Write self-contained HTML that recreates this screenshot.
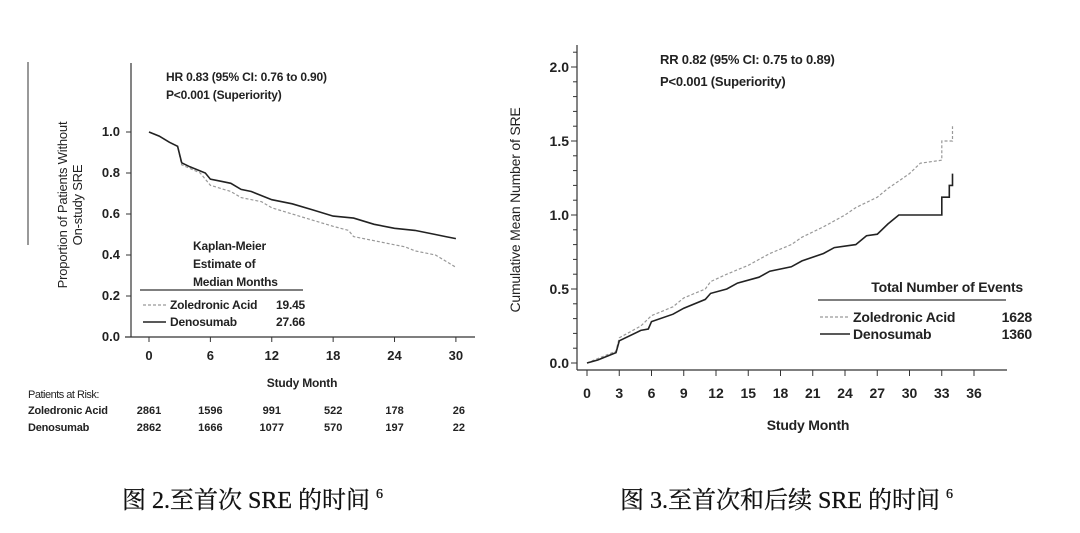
<!DOCTYPE html>
<html><head><meta charset="utf-8"><style>
html,body{margin:0;padding:0;background:#fff;}
svg{display:block;font-family:"Liberation Sans",Arial,sans-serif;}
.cap{font-family:"Liberation Serif","Noto Serif CJK SC","Noto Sans CJK SC",serif;font-size:24px;fill:#111;stroke:#111;stroke-width:0.3px;}
</style></head><body>
<svg id="s" width="1080" height="533" viewBox="0 0 1080 533" xmlns="http://www.w3.org/2000/svg">
<rect width="1080" height="533" fill="#fff"/>
<g id="g" stroke="#333" fill="none"></g>
<g font-size="12" fill="#222" font-weight="bold" style="letter-spacing:-0.2px">
<text x="166" y="81">HR 0.83 (95% CI: 0.76 to 0.90)</text>
<text x="166" y="99">P&lt;0.001 (Superiority)</text>
<text transform="translate(67,205) rotate(-90)" text-anchor="middle" font-weight="normal" font-size="13">Proportion of Patients Without</text>
<text transform="translate(82,205) rotate(-90)" text-anchor="middle" font-weight="normal" font-size="13">On-study SRE</text>
<text x="193" y="250">Kaplan-Meier</text>
<text x="193" y="268">Estimate of</text>
<text x="193" y="286">Median Months</text>
<text x="170" y="309">Zoledronic Acid</text><text x="276" y="309">19.45</text>
<text x="170" y="326">Denosumab</text><text x="276" y="326">27.66</text>
<text x="302" y="387" text-anchor="middle">Study Month</text>
<text x="28" y="398" font-size="11" font-weight="normal" style="letter-spacing:-0.5px">Patients at Risk:</text>
<text x="28" y="414" font-size="11">Zoledronic Acid</text>
<text x="28" y="431" font-size="11">Denosumab</text>
<text x="660" y="64" font-size="13">RR 0.82 (95% CI: 0.75 to 0.89)</text>
<text x="660" y="86" font-size="13">P&lt;0.001 (Superiority)</text>
<text transform="translate(520,210) rotate(-90)" text-anchor="middle" font-weight="normal" font-size="14">Cumulative Mean Number of SRE</text>
<text x="1023" y="292" text-anchor="end" font-size="14">Total Number of Events</text>
<text x="853" y="322" font-size="14">Zoledronic Acid</text><text x="1032" y="322" font-size="14" text-anchor="end">1628</text>
<text x="853" y="339" font-size="14">Denosumab</text><text x="1032" y="339" font-size="14" text-anchor="end">1360</text>
<text x="808" y="430" text-anchor="middle" font-size="14">Study Month</text>
</g>
<g id="t" fill="#222" font-weight="bold"></g>
<text class="cap" x="122" y="508">图 2.至首次 SRE 的时间 <tspan font-size="14" dy="-10">6</tspan></text>
<text class="cap" x="620" y="508">图 3.至首次和后续 SRE 的时间 <tspan font-size="14" dy="-10">6</tspan></text>
</svg>
<script>
var NS="http://www.w3.org/2000/svg",g=document.getElementById('g'),t=document.getElementById('t');
function L(a,b,c,d,w,col,dash){var e=document.createElementNS(NS,'line');e.setAttribute('x1',a);e.setAttribute('y1',b);e.setAttribute('x2',c);e.setAttribute('y2',d);e.setAttribute('stroke-width',w||1);if(col)e.setAttribute('stroke',col);if(dash)e.setAttribute('stroke-dasharray',dash);g.appendChild(e);}
function T(x,y,s,fs,anc){var e=document.createElementNS(NS,'text');e.setAttribute('x',x);e.setAttribute('y',y);e.setAttribute('font-size',fs);e.setAttribute('text-anchor',anc||'middle');e.textContent=s;t.appendChild(e);}
function P(pts,fx,fy,w,col,dash){var d='';for(var i=0;i<pts.length;i++){d+=(i?'L':'M')+fx(pts[i][0]).toFixed(1)+' '+fy(pts[i][1]).toFixed(1);}var e=document.createElementNS(NS,'path');e.setAttribute('d',d);e.setAttribute('stroke-width',w);e.setAttribute('stroke',col);if(dash)e.setAttribute('stroke-dasharray',dash);g.appendChild(e);}
// left
L(28,62,28,245,1);
L(131,63,131,337,1.2);L(125,337,475,337,1.2);
var lx=function(m){return 149+m*10.23},ly=function(v){return 337-v*205};
for(var v=0;v<=5;v++){L(126,ly(v/5),131,ly(v/5));T(120,ly(v/5)+4,(v/5).toFixed(1),13,'end');}
var za=[2861,1596,991,522,178,26],dn=[2862,1666,1077,570,197,22];
for(var m=0;m<=30;m+=6){L(lx(m),337,lx(m),342);T(lx(m),360,m,13);T(lx(m)+(m==30?3:0),414,za[m/6],11);T(lx(m)+(m==30?3:0),431,dn[m/6],11);}
L(140,290,303,290,1.2);L(143,305,166,305,1.2,'#999','3,2');L(143,322,166,322,1.5,'#222');
var kd=[[0,1],[1,.98],[2,.95],[2.8,.93],[3.2,.85],[4,.83],[5.5,.8],[6,.77],[7,.76],[8,.75],[9,.72],[10,.71],[11,.69],[12,.67],[14,.65],[16,.62],[18,.59],[20,.58],[22,.55],[24,.53],[26,.52],[28,.5],[29,.49],[30,.48]];
var kz=[[0,1],[1,.98],[2,.95],[2.8,.93],[3.2,.84],[5,.8],[6,.74],[8,.71],[9,.68],[11,.66],[12,.63],[14,.6],[16,.57],[18,.54],[19.5,.52],[20,.49],[22,.47],[24,.45],[25,.44],[26,.42],[28,.4],[29,.37],[30,.34]];
P(kz,lx,ly,1.2,'#999','3,2');P(kd,lx,ly,1.6,'#222');
// right
L(577,45,577,370,1.2);L(577,370,1007,370,1.2);
var rx=function(m){return 587+m*10.75},ry=function(v){return 363-v*148};
for(var i=0;i<=21;i++){var y=ry(i/10);L(i%5?573:571,y,577,y);if(i%5==0)T(569,y+5,(i/10).toFixed(1),14,'end');}
for(var m=0;m<=36;m+=3){L(rx(m),370,rx(m),376);T(rx(m),398,m,14);}
L(818,300,1006,300,1.2);L(820,317,850,317,1.2,'#999','3,2');L(820,334,850,334,1.5,'#222');
var cd=[[0,0],[1,.02],[2.7,.07],[3,.15],[5,.22],[5.7,.23],[6,.28],[8,.33],[9,.37],[11,.43],[11.5,.47],[13,.5],[14,.54],[16,.58],[17,.62],[19,.65],[20,.69],[22,.74],[23,.78],[25,.8],[26,.86],[27,.87],[28,.94],[29,1],[33,1],[33,1.12],[33.7,1.12],[33.7,1.2],[34,1.2],[34,1.28]];
var cz=[[0,0],[2.7,.08],[3,.17],[5,.25],[6,.32],[8,.38],[9,.44],[11,.5],[11.5,.55],[13,.6],[15,.66],[17,.74],[19,.8],[20,.85],[22,.92],[24,1],[25,1.05],[27,1.12],[28,1.18],[29,1.23],[30,1.28],[31,1.35],[33,1.37],[33,1.5],[34,1.5],[34,1.6]];
P(cz,rx,ry,1.2,'#999','3,2');P(cd,rx,ry,1.6,'#222');
</script>
</body></html>
